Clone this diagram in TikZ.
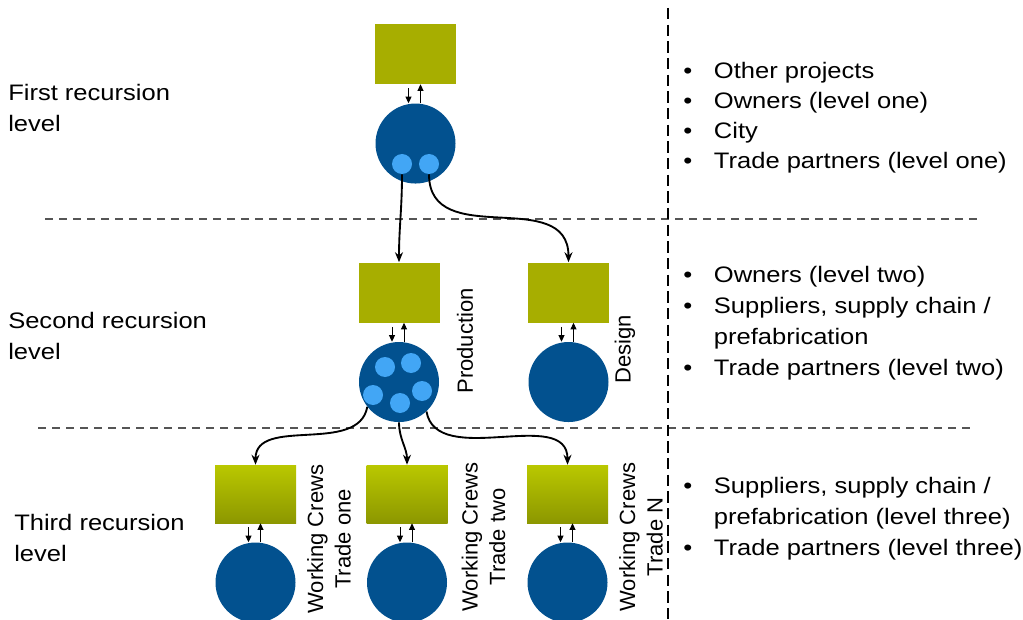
\documentclass[tikz,border=0pt]{standalone}
\usepackage{fontspec}
\setmainfont{Liberation Sans}[FakeStretch=1.14]
\newfontfamily\rolefont{Liberation Sans}
\usepackage{xcolor}
\usetikzlibrary{positioning,arrows.meta}
\definecolor{pmgreen}{HTML}{A7AE00}
\definecolor{crewtop}{HTML}{BAC800}
\definecolor{crewbot}{HTML}{8C9700}
\definecolor{teamblue}{HTML}{02518F}
\definecolor{memberblue}{HTML}{42A6F5}
\definecolor{sepgray}{HTML}{555555}
\newcommand{\bul}{\makebox[23pt][l]{\textbullet}}
\newcommand{\hang}{\hspace*{23pt}}

\begin{document}
\begin{tikzpicture}[x=0.75pt,y=-0.75pt,node distance=14.25pt,
	pm/.style={fill=pmgreen,minimum width=60.75pt,minimum height=45pt,inner sep=0},
	crew/.style={pm,top color=crewtop,bottom color=crewbot,minimum height=43.5pt},
	team/.style={circle,fill=teamblue,minimum size=60pt,inner sep=0},
	member/.style={circle,fill=memberblue,minimum size=15pt,inner sep=0},
	flow/.style={-{Stealth[length=7.5pt,width=6pt]},line width=1.4pt},
	sync/.style={-{Triangle[length=5pt,width=4.5pt]},line width=0.7pt},
	level/.style={font=\fontsize{16.8}{23.25}\selectfont,align=left,anchor=west,inner sep=0},
	role/.style={font=\rolefont\fontsize{16.5}{20.5}\selectfont,align=center,rotate=90,inner sep=0},
	sep/.style={draw=sepgray,line width=1.5pt,dash pattern=on 6pt off 4.5pt},
	divider/.style={draw=black,line width=1.2pt,dash pattern=on 8.5pt off 4pt}]
	\useasboundingbox (0,0) rectangle (1023,620);

	\draw[sep] (45,219) -- (978,219);
	\draw[sep] (38,428) -- (975,428);
	\draw[divider] (668,8) -- (668,620);

	\node[pm] (p0) at (415.5,54) {};
	\node[team] (c0) [below=of p0] {};
	\node[member] (m1) at (402,164) {};
	\node[member] (m2) at (429,164) {};

	\node[pm] (p1) at (399,292.5) {};
	\node[team] (c1) [below=of p1] {};
	\node[pm] (p2) at (568.5,292.5) {};
	\node[team] (c2) [below=of p2] {};
	\foreach \n/\pos in {m3/{(385,367)},m4/{(411,363)},m5/{(373,395)},m6/{(422,391)},m7/{(400,403)}}
		\node[member] (\n) at \pos {};

	\node[crew] (t1) at (255.5,494) {};
	\node[team] (d1) [below=of t1] {};
	\node[crew] (t2) at (407,494) {};
	\node[team] (d2) [below=of t2] {};
	\node[crew] (t3) at (567.5,494) {};
	\node[team] (d3) [below=of t3] {};

	\foreach \b/\c in {p0/c0,p1/c1,p2/c2,t1/d1,t2/d2,t3/d3} {
		\draw[sync] ([xshift=-5.25pt,yshift=-3pt]\b.south) -- ([xshift=-5.25pt]\b.south |- \c.north);
		\draw[sync] ([xshift=3.75pt]\b.south |- \c.north) -- ([xshift=3.75pt]\b.south);
	}

	\draw[flow] (m1.south) to[out=-90,in=90] (p1.north);
	\draw[flow] (m2.south) to[out=-90,in=90,looseness=1.2] (p2.north);
	\draw[flow] (c1.218) to[out=-100,in=90] (t1.north);
	\draw[flow] (c1.south) to[out=-90,in=90] (t2.north);
	\draw[flow] (c1.-47) to[out=-80,in=90] (t3.north);

	\node[role] (prod) at (465,341) {Production};
	\node[role] (design) at (625,349) {Design};
	\node[role] (crew1) at (329,539) {Working Crews\\Trade one};
	\node[role] (crew2) at (483.5,537) {Working Crews\\Trade two};
	\node[role] (crew3) at (641,537) {Working Crews\\Trade N};

	\node[level] (l1) at (8,108) {First recursion\\level};
	\node[level] (l2) at (8,336) {Second recursion\\level};
	\node[level] (l3) at (14,537.5) {Third recursion\\level};

	\node[level,font=\fontsize{16.8}{22.5}\selectfont] (s1) at (683,118) {\bul Other projects\\\bul Owners (level one)\\\bul City\\\bul Trade partners (level one)};
	\node[level] (s2) at (683,323) {\bul Owners (level two)\\\bul Suppliers, supply chain /\\\hang prefabrication\\\bul Trade partners (level two)};
	\node[level] (s3) at (683,519) {\bul Suppliers, supply chain /\\\hang prefabrication (level three)\\\bul Trade partners (level three)};
\end{tikzpicture}
\end{document}
